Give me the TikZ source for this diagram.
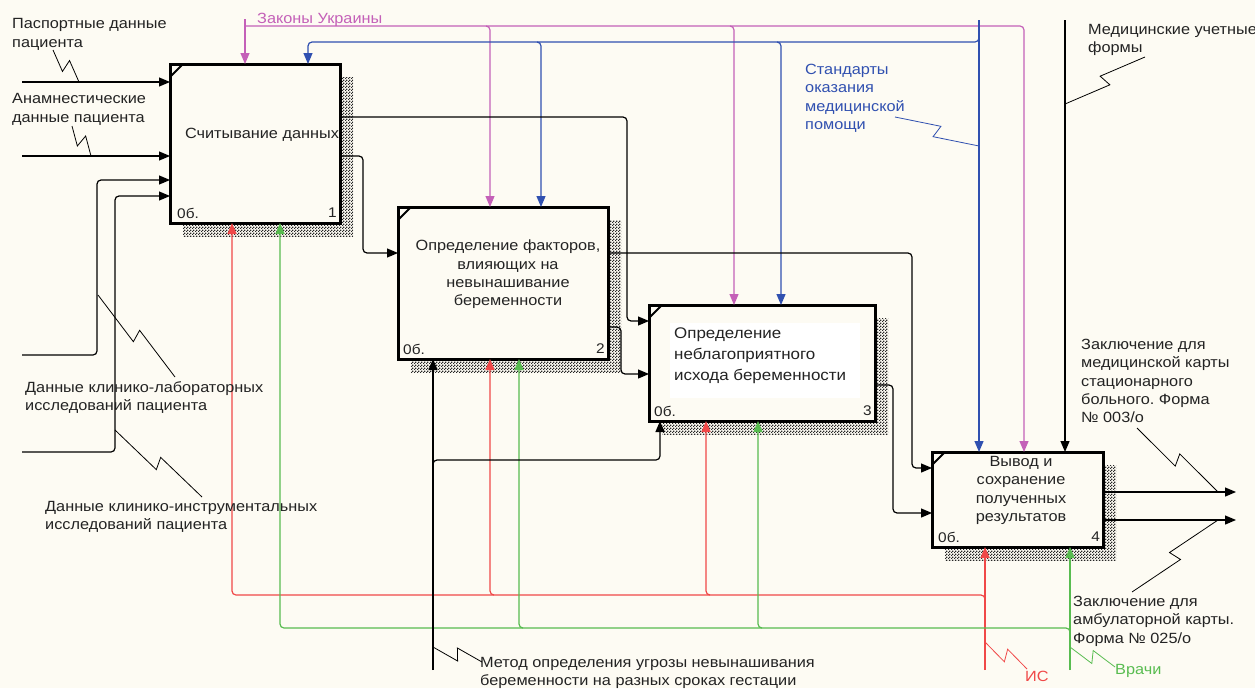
\documentclass[tikz,border=0pt]{standalone}
\usepackage{fontspec}
\setmainfont{Liberation Sans}[FakeStretch=1.1]
\usetikzlibrary{arrows.meta,patterns,calc}
\definecolor{bg}{RGB}{253,251,243}
\definecolor{cMag}{RGB}{196,96,184}
\definecolor{cBlue}{RGB}{48,80,176}
\definecolor{cRed}{RGB}{240,72,72}
\definecolor{cGreen}{RGB}{88,188,80}
\definecolor{ink}{RGB}{35,35,35}
\pgfdeclarepatternformonly{idefhatch}{\pgfpointorigin}{\pgfpoint{3pt}{3pt}}{\pgfpoint{3pt}{3pt}}{%
  \pgfpathrectangle{\pgfpointorigin}{\pgfpoint{1.5pt}{1.5pt}}%
  \pgfpathrectangle{\pgfpoint{1.5pt}{1.5pt}}{\pgfpoint{1.5pt}{1.5pt}}%
  \pgfusepath{fill}}
\tikzset{
  box/.style={draw=black, line width=3pt, fill=bg, rectangle, inner sep=0pt, outer sep=0pt},
  shadowbox/.style={pattern=idefhatch, pattern color=black!85},
  conn/.style={line width=1.2pt, rounded corners=4pt},
  arr/.style={conn, -{Triangle[length=11pt,width=9pt]}},
  lbl/.style={font=\fontsize{14.8}{18.3}\selectfont, align=left, anchor=north west, inner sep=0pt, text=ink},
  btxt/.style={font=\fontsize{14.8}{18.3}\selectfont, align=center, inner sep=0pt, text=ink},
  num/.style={font=\fontsize{14}{16}\selectfont, inner sep=0pt, text=ink},
  squigl/.style={line width=0.8pt},
  corner/.style={line width=2pt}
}
\newcommand{\squig}[5][]{%
  \draw[squigl,#1] (#2) -- ($($(#2)!0.5!(#3)$)!6.5pt!#4:(#3)$) -- ($($(#2)!0.5!(#3)$)!6.5pt!#5:(#3)$) -- (#3);}
\frenchspacing
\begin{document}
\begin{tikzpicture}[x=1pt,y=-1pt]
\useasboundingbox (0,0) rectangle (1255,688);
\fill[bg] (0,0) rectangle (1255,688);
% shadows
\path[shadowbox] (183,77) rectangle (353,236);
\path[shadowbox] (411,220) rectangle (621,372);
\path[shadowbox] (662,318) rectangle (888,434);
\path[shadowbox] (945,465) rectangle (1116,560);
% boxes
\node[box, minimum width=170pt, minimum height=159pt] (b1) at (255,143.5) {};
\node[box, minimum width=210pt, minimum height=152pt] (b2) at (503,283) {};
\node[box, minimum width=226pt, minimum height=116pt] (b3) at (762,363) {};
\node[box, minimum width=171pt, minimum height=95pt] (b4) at (1017.5,499.5) {};
\foreach \b in {b1,b2,b3,b4}{
  \draw[corner] ($(\b.north west)+(0,13)$) -- ($(\b.north west)+(13,0)$);
}
% box texts
\node[btxt] (t1) at (262,135) {Считывание данных};
\node[btxt] (t2) at (508,274.5) {Определение факторов,\\влияющих на\\невынашивание\\беременности};
\node[fill=white, inner sep=0pt, minimum width=190pt, minimum height=75pt] (w3) at (765,360.5) {};
\node[font=\fontsize{15.4}{21}\selectfont, align=left, anchor=west, inner sep=0pt, text=ink] (t3) at (674,356) {Определение\\неблагоприятного\\исхода беременности};
\node[btxt] (t4) at (1021,490.5) {Вывод и\\сохранение\\полученных\\результатов};
% numbers
\node[num, anchor=west] (n1a) at (177,213) {0б.};
\node[num, anchor=east] (n1b) at (337,213) {1};
\node[num, anchor=west] (n2a) at (403,349) {0б.};
\node[num, anchor=east] (n2b) at (605,349) {2};
\node[num, anchor=west] (n3a) at (654,411) {0б.};
\node[num, anchor=east] (n3b) at (872,411) {3};
\node[num, anchor=west] (n4a) at (938,537) {0б.};
\node[num, anchor=east] (n4b) at (1100,537) {4};
% ---------- controls
\coordinate (zkSrc) at (245,19);
\draw[arr,cMag] (zkSrc) -- (zkSrc |- b1.north);
\draw[arr,cMag] (245,26) -| (b4.north -| 1024,0);
\draw[arr,cMag] (486,26) -| (b2.north -| 490,0);
\draw[arr,cMag] (730,26) -| (b3.north -| 734,0);
\coordinate (stSrc) at (979,20);
\draw[arr,cBlue] (stSrc) -- (stSrc |- b4.north);
\draw[arr,cBlue] (979,36) |- (400,42) -| (b1.north -| 308,0);
\draw[arr,cBlue] (537,42) -| (b2.north -| 541,0);
\draw[arr,cBlue] (777,42) -| (b3.north -| 781,0);
\coordinate (mfSrc) at (1065,20);
\draw[arr] (mfSrc) -- (mfSrc |- b4.north);
% ---------- mechanisms
\coordinate (isSrc) at (985,670);
\draw[arr,cRed] (isSrc) -- (isSrc |- b4.south);
\draw[arr,cRed] (985,600) |- (600,595) -| (b1.south -| 232,0);
\draw[arr,cRed] (494,595) -| (b2.south -| 490,0);
\draw[arr,cRed] (710,595) -| (b3.south -| 706,0);
\coordinate (vrSrc) at (1070,670);
\draw[arr,cGreen] (vrSrc) -- (vrSrc |- b4.south);
\draw[arr,cGreen] (1070,633) |- (600,628) -| (b1.south -| 280,0);
\draw[arr,cGreen] (523,628) -| (b2.south -| 519,0);
\draw[arr,cGreen] (762,628) -| (b3.south -| 758,0);
\coordinate (mdSrc) at (433,670);
\draw[arr] (mdSrc) -- (mdSrc |- b2.south);
\draw[arr] (433,464) |- (600,460) -| (b3.south -| 660,0);
% ---------- inputs
\coordinate (in1) at (22,82);
\draw[arr] (in1) -- (in1 -| b1.west);
\coordinate (in2) at (22,156);
\draw[arr] (in2) -- (in2 -| b1.west);
\coordinate (in3) at (22,355);
\draw[arr] (in3) -| (97,180) -- (b1.west |- 97,180);
\coordinate (in4) at (22,452);
\draw[arr] (in4) -| (115,196) -- (b1.west |- 115,196);
% ---------- internal flows
\draw[arr] (b1.east |- 0,117) -| (627,321) -- (b3.west |- 0,321);
\draw[arr] (b1.east |- 0,156) -| (363,253) -- (b2.west |- 0,253);
\draw[arr] (b2.east |- 0,253) -| (912,468) -- (b4.west |- 0,468);
\draw[arr] (b2.east |- 0,327) -| (621,374) -- (b3.west |- 0,374);
\draw[arr] (b3.east |- 0,385) -| (893,513) -- (b4.west |- 0,513);
% ---------- outputs
\coordinate (out1) at (1236,492);
\draw[arr] (b4.east |- out1) -- (out1);
\coordinate (out2) at (1236,520);
\draw[arr] (b4.east |- out2) -- (out2);
% ---------- labels
\node[lbl] (l1) at (12,18.5) {Паспортные данные\\пациента};
\node[lbl] (l2) at (12,93.5) {Анамнестические\\данные пациента};
\node[lbl] (l3) at (25,381) {Данные клинико-лабораторных\\исследований пациента};
\node[lbl] (l4) at (45,501) {Данные клинико-инструментальных\\исследований пациента};
\node[lbl, text=cMag] (l5) at (257,12.5) {Законы Украины};
\node[lbl, text=cBlue] (l6) at (805,64) {Стандарты\\оказания\\медицинской\\помощи};
\node[lbl] (l7) at (1088,24) {Медицинские учетные\\формы};
\node[lbl] (l8) at (1081,339) {Заключение для\\медицинской карты\\стационарного\\больного. Форма\\№ 003/о};
\node[lbl] (l9) at (1073,596) {Заключение для\\амбулаторной карты.\\Форма № 025/о};
\node[lbl] (l10) at (480,657) {Метод определения угрозы невынашивания\\беременности на разных сроках гестации};
\node[lbl, text=cRed] (l11) at (1025,671) {ИС};
\node[lbl, text=cGreen] (l12) at (1115,664) {Врачи};
% ---------- squiggles
\squig{53,50}{79,82}{-72}{108}
\squig{72,126}{91,156}{-72}{108}
\squig{98,295}{175,377}{-72}{108}
\squig{115,430}{202,497}{-72}{108}
\squig{1145,57}{1065,104}{-72}{108}
\squig[cBlue]{895,117}{979,146}{72}{-108}
\squig{1137,428}{1218,492}{-72}{108}
\squig{1132,592}{1218,520}{-72}{108}
\squig{433,647}{482,662}{-72}{108}
\squig[cRed]{985,642}{1027,669}{-72}{108}
\squig[cGreen]{1070,647}{1115,667}{-72}{108}
\end{tikzpicture}
\end{document}
